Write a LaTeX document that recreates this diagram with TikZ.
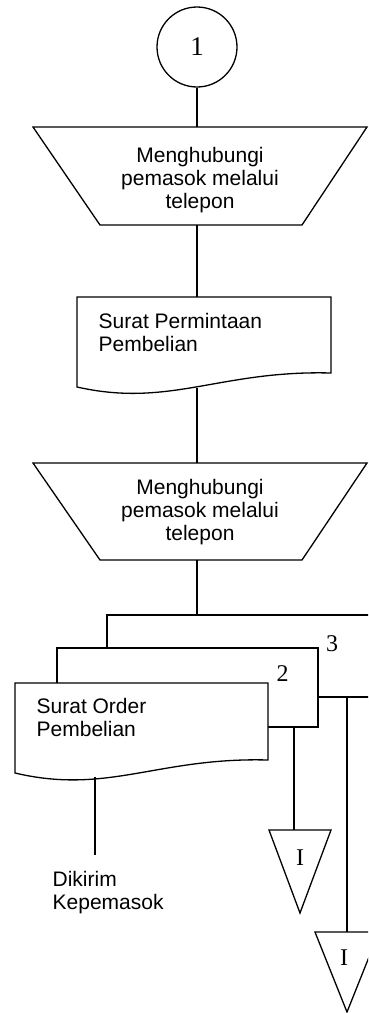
\documentclass[tikz,border=0pt]{standalone}
\usepackage{fontspec}
\setmainfont{Liberation Sans}
\newfontfamily\numfont{Liberation Serif}
\begin{document}
\begin{tikzpicture}[x=1pt,y=-1pt,line width=1.3pt,line join=miter,
  lbl/.style={font=\fontsize{21}{23}\selectfont,align=center,inner sep=0pt},
  lbll/.style={font=\fontsize{21}{23}\selectfont,align=left,anchor=north west,inner sep=0pt},
  num/.style={font=\numfont\fontsize{24}{24}\selectfont,inner sep=0pt},
  shp/.style={draw,fill=white},
  conn/.style={draw}]
\clip (0,0) rectangle (368,1013);
% start connector
\node[circle,draw,minimum size=80pt,inner sep=0pt,num,font=\numfont\fontsize{27}{27}\selectfont] (start) at (197,47) {1};
% manual operation 1
\draw[shp] (33,127) -- (367,127) -- (302,225) -- (100,225) -- cycle;
\coordinate (t1n) at (197,127);
\coordinate (t1s) at (197,225);
\node[lbl] (t1) at (200,180) {Menghubungi\\pemasok melalui\\telepon};
% document 1
\draw[shp] (77,297) -- (331,297) -- (331,373) .. controls (220,370) and (170,408) .. (77,387) -- cycle;
\coordinate (d1n) at (197,297);
\coordinate (d1s) at (197,388);
\node[lbll] (d1) at (98,312.7) {Surat Permintaan\\Pembelian};
% manual operation 2
\draw[shp] (33,463) -- (367,463) -- (302,560) -- (100,560) -- cycle;
\coordinate (t2n) at (197,463);
\coordinate (t2s) at (197,560);
\node[lbl] (t2) at (200,512.5) {Menghubungi\\pemasok melalui\\telepon};
% multi-document stack
\draw[shp] (107,615) rectangle (390,697);
\coordinate (d3n) at (197,615);
\coordinate (d3s) at (347,697);
\draw[shp] (57,648) rectangle (318,727);
\coordinate (d2s) at (294,727);
\draw[shp] (15,683) -- (268,683) -- (268,760) .. controls (158,757) and (108,795) .. (15,773) -- cycle;
\coordinate (dfs) at (95,777);
\node[num] (n3) at (332,644) {3};
\node[num] (n2) at (282.5,673.5) {2};
\node[lbll] (df) at (36,697.7) {Surat Order\\Pembelian};
% off-page connectors
\draw[shp] (269,830) -- (331,830) -- (300,913) -- cycle;
\coordinate (o1n) at (294,830);
\node[num] (o1) at (300,858) {I};
\draw[shp] (315,932) -- (379,932) -- (347,1012) -- cycle;
\coordinate (o2n) at (347,932);
\node[num] (o2) at (344,957.5) {I};
% end text
\coordinate (endc) at (95,855);
\node[lbll] (dk) at (52,870.7) {Dikirim\\Kepemasok};
% connectors
\draw[conn] (start.south) -- (t1n);
\draw[conn] (t1s) -- (d1n);
\draw[conn] (d1s) -- (t2n);
\draw[conn] (t2s) -- (d3n);
\draw[conn] (d2s) -- (o1n);
\draw[conn] (d3s) -- (o2n);
\draw[conn] (dfs) -- (endc);
\end{tikzpicture}
\end{document}
